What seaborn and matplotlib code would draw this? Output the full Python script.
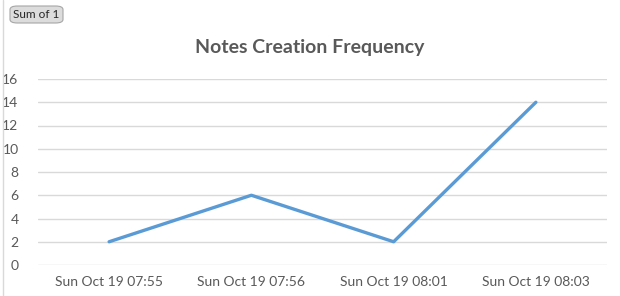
import matplotlib
matplotlib.use("Agg")
import matplotlib.pyplot as plt
import seaborn as sns
import pandas as pd
from matplotlib.patches import FancyBboxPatch
from matplotlib.lines import Line2D

categories = ["Sun Oct 19 07:55", "Sun Oct 19 07:56", "Sun Oct 19 08:01", "Sun Oct 19 08:03"]
values = [2, 6, 2, 14]
yticks = [0, 2, 4, 6, 8, 10, 12, 14, 16]

sns.set_theme(style="white")
plt.rcParams['font.family'] = ['Lato', 'DejaVu Sans']

W, H = 620, 296
fig = plt.figure(figsize=(W/100, H/100), dpi=100)
ax = fig.add_axes([38/W, 1-265/H, (607-38)/W, (265-79)/H])

df = pd.DataFrame({"cat": categories, "val": values})
sns.lineplot(data=df, x="cat", y="val", ax=ax, color="#5B9BD5", linewidth=2.4, sort=False)

ax.set_xlim(-0.5, len(categories)-0.5)
ax.set_ylim(0, 16)
ax.set_yticks(yticks)
ax.set_yticklabels([str(t) for t in yticks])
ax.grid(axis="y", color="#D9D9D9", linewidth=1.0)
ax.grid(axis="x", visible=False)
ax.set_axisbelow(True)
for s in ax.spines.values():
    s.set_visible(False)
ax.tick_params(axis="y", length=0, labelsize=10, labelcolor="#595959", pad=14)
ax.tick_params(axis="x", length=0, labelsize=10, labelcolor="#595959", pad=8)
ax.set_xlabel("")
ax.set_ylabel("")

fig.text(310/W, 1-47/H, "Notes Creation Frequency", ha="center", va="center",
         fontsize=14, fontweight="bold", color="#595959")

# pivot field button
btn = FancyBboxPatch((10/W, 1-23/H), 53/W, 17/H, boxstyle="round,pad=0,rounding_size=0.012",
                     transform=fig.transFigure, facecolor="#DCDCDC", edgecolor="#A6A6A6", linewidth=0.8)
fig.patches.append(btn)
fig.text(36.5/W, 1-14.5/H, "Sum of 1", ha="center", va="center", fontsize=8.5, color="#262626")

# left border
fig.lines.append(Line2D([2.5/W, 2.5/W], [0, 1], transform=fig.transFigure, color="#D9D9D9", linewidth=1))

fig.savefig("out.png", dpi=100)
